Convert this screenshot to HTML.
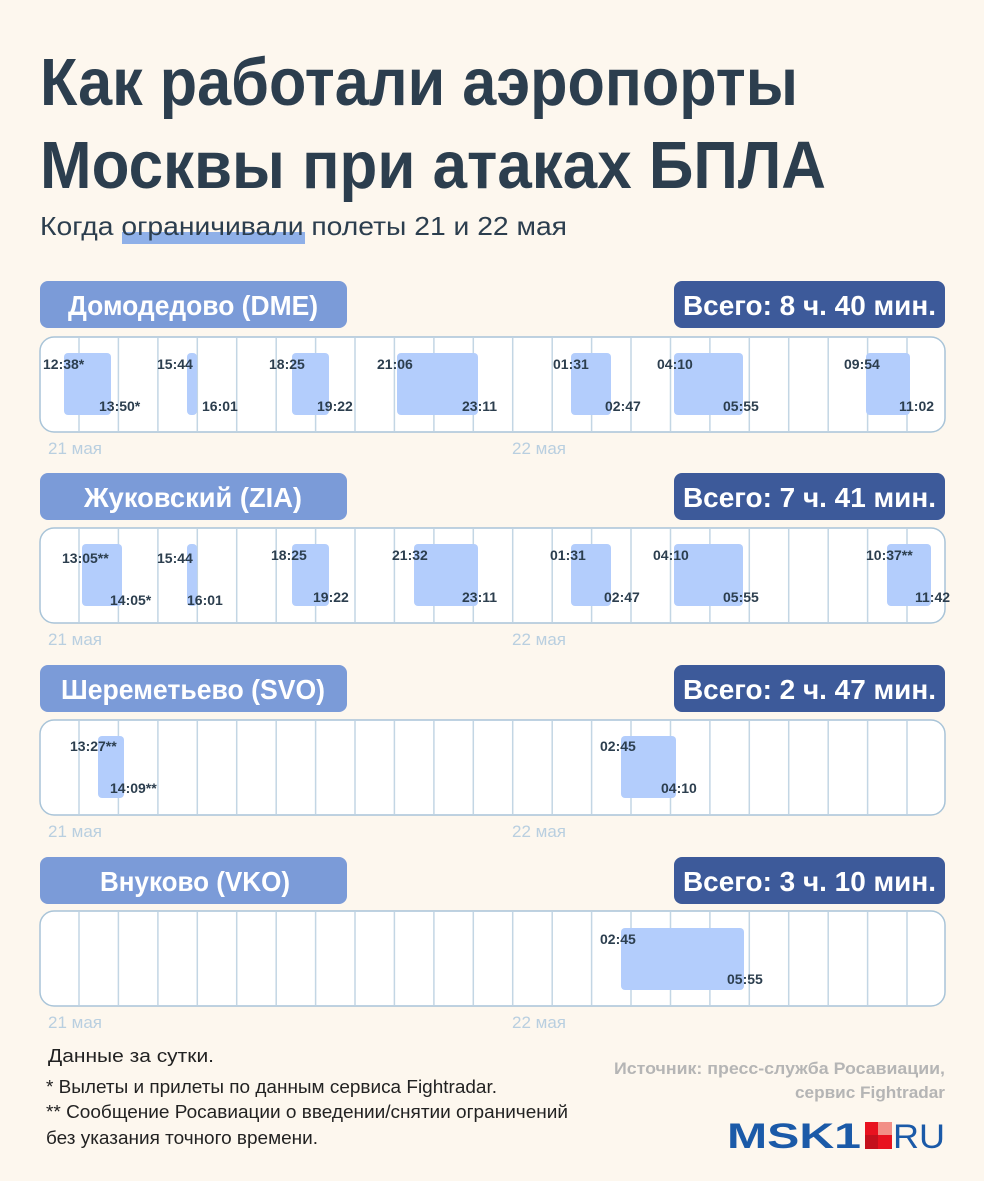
<!DOCTYPE html>
<html><head><meta charset="utf-8"><style>
body{margin:0;background:#fdf7ee}
svg{display:block}
text{font-family:"Liberation Sans Narrow","Liberation Sans","Noto Sans CJK SC",sans-serif}
.t{font-weight:bold;font-size:14px;fill:#2c3e4e;font-family:"Liberation Sans",sans-serif}
.h{font-weight:bold;font-size:28px;fill:#fff}
.d{font-size:17px;fill:#b9cfe0;font-family:"Liberation Sans",sans-serif}
.f{font-size:18.5px;fill:#222;font-family:"Liberation Sans",sans-serif}
.s{font-size:17px;fill:#b5b5b5;font-weight:bold}
</style></head><body>
<svg width="984" height="1181" viewBox="0 0 984 1181" xmlns="http://www.w3.org/2000/svg">
<rect width="984" height="1181" fill="#fdf7ee"/>
<text x="40" y="105" font-size="67" font-weight="bold" fill="#2c3e4e" textLength="758" lengthAdjust="spacingAndGlyphs">Как работали аэропорты</text>
<text x="40" y="188" font-size="67" font-weight="bold" fill="#2c3e4e" textLength="786" lengthAdjust="spacingAndGlyphs">Москвы при атаках БПЛА</text>
<rect x="122" y="232" width="183" height="12" fill="#8fb0e8"/>
<text x="40" y="235" font-size="26" fill="#2c3e4e" textLength="527" lengthAdjust="spacingAndGlyphs" style="font-family:'Liberation Sans',sans-serif">Когда ограничивали полеты 21 и 22 мая</text>

<defs>
<g id="grid">
<rect x="40" y="0" width="905" height="95" rx="14" fill="#fff" stroke="#a9c4d8" stroke-width="1.5"/>
<g stroke="#c3d6e4" stroke-width="1.5">
<line x1="79" y1="1" x2="79" y2="94"/><line x1="118.4" y1="1" x2="118.4" y2="94"/><line x1="157.9" y1="1" x2="157.9" y2="94"/><line x1="197.3" y1="1" x2="197.3" y2="94"/><line x1="236.7" y1="1" x2="236.7" y2="94"/><line x1="276.2" y1="1" x2="276.2" y2="94"/><line x1="315.6" y1="1" x2="315.6" y2="94"/><line x1="355" y1="1" x2="355" y2="94"/><line x1="394.4" y1="1" x2="394.4" y2="94"/><line x1="433.9" y1="1" x2="433.9" y2="94"/><line x1="473.3" y1="1" x2="473.3" y2="94"/><line x1="512.7" y1="1" x2="512.7" y2="94"/><line x1="552.2" y1="1" x2="552.2" y2="94"/><line x1="591.6" y1="1" x2="591.6" y2="94"/><line x1="631" y1="1" x2="631" y2="94"/><line x1="670.5" y1="1" x2="670.5" y2="94"/><line x1="709.9" y1="1" x2="709.9" y2="94"/><line x1="749.3" y1="1" x2="749.3" y2="94"/><line x1="788.7" y1="1" x2="788.7" y2="94"/><line x1="828.2" y1="1" x2="828.2" y2="94"/><line x1="867.6" y1="1" x2="867.6" y2="94"/><line x1="907" y1="1" x2="907" y2="94"/>
</g>
<text class="d" x="48" y="117">21 мая</text><text class="d" x="512" y="117">22 мая</text>
</g>
</defs>

<!-- DME -->
<rect x="40" y="281" width="307" height="47" rx="8" fill="#7b9bd8"/>
<text class="h" x="68" y="315" textLength="250" lengthAdjust="spacingAndGlyphs">Домодедово (DME)</text>
<rect x="674" y="281" width="271" height="47" rx="8" fill="#3d5a9a"/>
<text class="h" x="683" y="315" textLength="253" lengthAdjust="spacingAndGlyphs">Всего: 8 ч. 40 мин.</text>
<g transform="translate(0,337)"><use href="#grid"/>
<g fill="#b3cdfc">
<rect x="64" y="16" width="47" height="62" rx="4"/><rect x="187" y="16" width="10" height="62" rx="4"/><rect x="292" y="16" width="37" height="62" rx="4"/><rect x="397" y="16" width="81" height="62" rx="4"/><rect x="571" y="16" width="40" height="62" rx="4"/><rect x="674" y="16" width="69" height="62" rx="4"/><rect x="866" y="16" width="44" height="62" rx="4"/>
</g>
<text class="t" x="43" y="32">12:38*</text><text class="t" x="99" y="74">13:50*</text>
<text class="t" x="157" y="32">15:44</text><text class="t" x="202" y="74">16:01</text>
<text class="t" x="269" y="32">18:25</text><text class="t" x="317" y="74">19:22</text>
<text class="t" x="377" y="32">21:06</text><text class="t" x="462" y="74">23:11</text>
<text class="t" x="553" y="32">01:31</text><text class="t" x="605" y="74">02:47</text>
<text class="t" x="657" y="32">04:10</text><text class="t" x="723" y="74">05:55</text>
<text class="t" x="844" y="32">09:54</text><text class="t" x="899" y="74">11:02</text>
</g>

<!-- ZIA -->
<rect x="40" y="473" width="307" height="47" rx="8" fill="#7b9bd8"/>
<text class="h" x="84" y="507" textLength="218" lengthAdjust="spacingAndGlyphs">Жуковский (ZIA)</text>
<rect x="674" y="473" width="271" height="47" rx="8" fill="#3d5a9a"/>
<text class="h" x="683" y="507" textLength="253" lengthAdjust="spacingAndGlyphs">Всего: 7 ч. 41 мин.</text>
<g transform="translate(0,528)"><use href="#grid"/>
<g fill="#b3cdfc">
<rect x="82" y="16" width="40" height="62" rx="4"/><rect x="187" y="16" width="10" height="62" rx="4"/><rect x="292" y="16" width="37" height="62" rx="4"/><rect x="414" y="16" width="64" height="62" rx="4"/><rect x="571" y="16" width="40" height="62" rx="4"/><rect x="674" y="16" width="69" height="62" rx="4"/><rect x="887" y="16" width="44" height="62" rx="4"/>
</g>
<text class="t" x="62" y="35">13:05**</text><text class="t" x="110" y="77">14:05*</text>
<text class="t" x="157" y="35">15:44</text><text class="t" x="187" y="77">16:01</text>
<text class="t" x="271" y="32">18:25</text><text class="t" x="313" y="74">19:22</text>
<text class="t" x="392" y="32">21:32</text><text class="t" x="462" y="74">23:11</text>
<text class="t" x="550" y="32">01:31</text><text class="t" x="604" y="74">02:47</text>
<text class="t" x="653" y="32">04:10</text><text class="t" x="723" y="74">05:55</text>
<text class="t" x="866" y="32">10:37**</text><text class="t" x="915" y="74">11:42</text>
</g>

<!-- SVO -->
<rect x="40" y="665" width="307" height="47" rx="8" fill="#7b9bd8"/>
<text class="h" x="61" y="699" textLength="264" lengthAdjust="spacingAndGlyphs">Шереметьево (SVO)</text>
<rect x="674" y="665" width="271" height="47" rx="8" fill="#3d5a9a"/>
<text class="h" x="683" y="699" textLength="253" lengthAdjust="spacingAndGlyphs">Всего: 2 ч. 47 мин.</text>
<g transform="translate(0,720)"><use href="#grid"/>
<g fill="#b3cdfc"><rect x="98" y="16" width="26" height="62" rx="4"/><rect x="621" y="16" width="55" height="62" rx="4"/></g>
<text class="t" x="70" y="31">13:27**</text><text class="t" x="110" y="73">14:09**</text>
<text class="t" x="600" y="31">02:45</text><text class="t" x="661" y="73">04:10</text>
</g>

<!-- VKO -->
<rect x="40" y="857" width="307" height="47" rx="8" fill="#7b9bd8"/>
<text class="h" x="100" y="891" textLength="190" lengthAdjust="spacingAndGlyphs">Внуково (VKO)</text>
<rect x="674" y="857" width="271" height="47" rx="8" fill="#3d5a9a"/>
<text class="h" x="683" y="891" textLength="253" lengthAdjust="spacingAndGlyphs">Всего: 3 ч. 10 мин.</text>
<g transform="translate(0,911)"><use href="#grid"/>
<g fill="#b3cdfc"><rect x="621" y="17" width="123" height="62" rx="4"/></g>
<text class="t" x="600" y="33">02:45</text><text class="t" x="727" y="73">05:55</text>
</g>

<!-- footer -->
<text class="f" x="48" y="1062" textLength="166" lengthAdjust="spacingAndGlyphs">Данные за сутки.</text>
<text class="f" x="46" y="1093" textLength="451" lengthAdjust="spacingAndGlyphs">* Вылеты и прилеты по данным сервиса Fightradar.</text>
<text class="f" x="46" y="1118" textLength="522" lengthAdjust="spacingAndGlyphs">** Сообщение Росавиации о введении/снятии ограничений</text>
<text class="f" x="46" y="1144" textLength="272" lengthAdjust="spacingAndGlyphs">без указания точного времени.</text>
<text class="s" x="945" y="1074" text-anchor="end" textLength="331" lengthAdjust="spacingAndGlyphs">Источник: пресс-служба Росавиации,</text>
<text class="s" x="945" y="1098" text-anchor="end" textLength="150" lengthAdjust="spacingAndGlyphs">сервис Fightradar</text>
<text x="727" y="1148" font-size="35" font-weight="900" fill="#1b5aa8" textLength="134" lengthAdjust="spacingAndGlyphs" style="font-family:'Liberation Sans',sans-serif">MSK1</text>
<rect x="865" y="1122" width="27" height="27" fill="#e8121f"/>
<rect x="878" y="1122" width="14" height="13" fill="#f28f86"/>
<rect x="865" y="1135" width="13" height="14" fill="#c4101c"/>
<text x="893" y="1148" font-size="34" fill="#1b5aa8" textLength="52" lengthAdjust="spacingAndGlyphs" style="font-family:'Liberation Sans',sans-serif">RU</text>
</svg>
</body></html>
